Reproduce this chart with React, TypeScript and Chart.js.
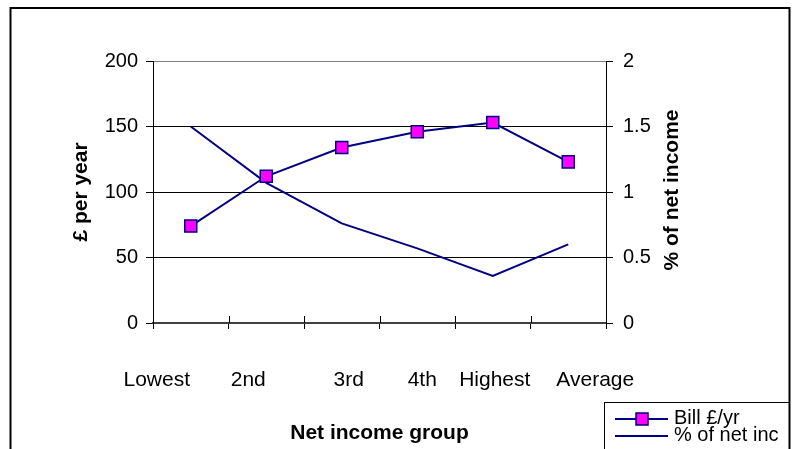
import React, { useEffect, useRef } from "react";
import { Chart, registerables } from "chart.js";

Chart.register(...registerables);

// Household bill by net income group, with the bill as a share of net income
const categories = ["Lowest", "2nd", "3rd", "4th", "Highest", "Average"];
const billPerYear = [74, 112, 134, 146, 153, 123];
const pctOfNetIncome = [1.5, 1.07, 0.76, 0.57, 0.36, 0.6];
const seriesNames = ["Bill £/yr", "% of net inc"];
const leftAxisRange = [0, 200];
const rightAxisRange = [0, 2];

// Layout: horizontal nudge of each category label from its category centre
const categoryLabelShift = [-34, -18, 7, 5, 2, 27];

const FONT = "Arial, 'Liberation Sans', sans-serif";
const NAVY = "#000080";
const MAGENTA = "#FF00FF";

const decorPlugin = {
  id: "decor",
  afterDraw(chart: any) {
    const { ctx, chartArea, scales } = chart;
    const x = scales.x;
    ctx.save();

    // upper half of the category tick marks (they cross the axis)
    ctx.strokeStyle = "#000";
    ctx.lineWidth = 1;
    for (let i = 1; i < categories.length; i++) {
      const px = Math.round(x.getPixelForValue(i - 0.5)) + 0.5;
      ctx.beginPath();
      ctx.moveTo(px, chartArea.bottom - 7);
      ctx.lineTo(px, chartArea.bottom);
      ctx.stroke();
    }

    // category labels
    ctx.fillStyle = "#000";
    ctx.font = `21px ${FONT}`;
    ctx.textAlign = "center";
    ctx.textBaseline = "alphabetic";
    categories.forEach((c, i) => {
      ctx.fillText(c, x.getPixelForValue(i) + categoryLabelShift[i], chartArea.bottom + 63);
    });

    // axis titles
    ctx.font = `bold 21px ${FONT}`;
    ctx.textBaseline = "middle";
    ctx.fillText("Net income group", (chartArea.left + chartArea.right) / 2, 433);

    const midY = (chartArea.top + chartArea.bottom) / 2;
    ctx.save();
    ctx.translate(81, midY);
    ctx.rotate(-Math.PI / 2);
    ctx.fillText("£ per year", 0, 0);
    ctx.restore();

    ctx.save();
    ctx.translate(672, midY - 2);
    ctx.rotate(-Math.PI / 2);
    ctx.fillText("% of net income", 0, 0);
    ctx.restore();

    // legend box, running into the frame on the right
    const lx = 604.5;
    const ly = 402.5;
    const lw = 789.5 - lx;
    ctx.fillStyle = "#fff";
    ctx.fillRect(lx, ly, lw, 80);
    ctx.strokeStyle = "#000";
    ctx.lineWidth = 1;
    ctx.strokeRect(lx, ly, lw, 80);

    chart.data.datasets.forEach((ds: any, i: number) => {
      const rowY = 419 + i * 17;
      ctx.strokeStyle = ds.borderColor;
      ctx.lineWidth = 2;
      ctx.beginPath();
      ctx.moveTo(615, rowY);
      ctx.lineTo(668, rowY);
      ctx.stroke();
      if (ds.pointRadius > 0) {
        ctx.fillStyle = ds.pointBackgroundColor;
        ctx.fillRect(636, rowY - 6, 12, 12);
        ctx.strokeStyle = ds.pointBorderColor;
        ctx.lineWidth = 1.5;
        ctx.strokeRect(636, rowY - 6, 12, 12);
      }
      ctx.fillStyle = "#000";
      ctx.font = `20px ${FONT}`;
      ctx.textAlign = "left";
      ctx.textBaseline = "alphabetic";
      ctx.fillText(ds.label, 674, rowY + 5);
    });

    // outer frame
    ctx.strokeStyle = "#000";
    ctx.lineWidth = 2;
    ctx.strokeRect(10.5, 8, 779, 480);

    ctx.restore();
  },
};

export default function App() {
  const canvasRef = useRef<HTMLCanvasElement | null>(null);

  useEffect(() => {
    if (!canvasRef.current) return;
    const tickFont = { family: FONT, size: 20 };
    const chart = new Chart(canvasRef.current, {
      type: "line",
      data: {
        labels: categories,
        datasets: [
          {
            label: seriesNames[0],
            data: billPerYear,
            yAxisID: "y",
            borderColor: NAVY,
            borderWidth: 2,
            pointStyle: "rect",
            pointRadius: 8.5,
            pointBackgroundColor: MAGENTA,
            pointBorderColor: NAVY,
            pointBorderWidth: 1.5,
            tension: 0,
          },
          {
            label: seriesNames[1],
            data: pctOfNetIncome,
            yAxisID: "y1",
            borderColor: NAVY,
            borderWidth: 2,
            pointRadius: 0,
            tension: 0,
          },
        ],
      },
      options: {
        responsive: false,
        animation: false,
        devicePixelRatio: 1,
        events: [],
        layout: { padding: { top: 61, left: 0, right: 0, bottom: 0 } },
        plugins: {
          legend: { display: false },
          tooltip: { enabled: false },
        },
        scales: {
          x: {
            type: "category",
            offset: true,
            grid: {
              offset: true,
              drawOnChartArea: false,
              tickLength: 6,
              color: "#000",
            },
            ticks: { display: false },
            border: { color: "#404040", width: 2 },
            afterFit: (s: any) => {
              s.height = 449 - 323;
            },
          },
          y: {
            type: "linear",
            position: "left",
            min: leftAxisRange[0],
            max: leftAxisRange[1],
            ticks: { stepSize: 50, padding: 8, color: "#000", font: tickFont },
            grid: {
              color: (c: any) =>
                c.tick && c.tick.value === leftAxisRange[1] ? "#808080" : "#000",
              tickColor: "#000",
              tickLength: 7,
              lineWidth: 1,
            },
            border: { color: "#000", width: 1 },
            afterFit: (s: any) => {
              s.width = 153;
            },
          },
          y1: {
            type: "linear",
            position: "right",
            min: rightAxisRange[0],
            max: rightAxisRange[1],
            ticks: {
              stepSize: 0.5,
              padding: 10,
              color: "#000",
              font: tickFont,
              callback: (v: any) => String(Number(v)),
            },
            grid: {
              drawOnChartArea: false,
              color: "#000",
              tickLength: 7,
            },
            border: { color: "#000", width: 1 },
            afterFit: (s: any) => {
              s.width = 792 - 606;
            },
          },
        },
      },
      plugins: [decorPlugin],
    });
    return () => chart.destroy();
  }, []);

  return (
    <div
      style={{
        position: "fixed",
        left: 0,
        top: 0,
        width: 792,
        height: 449,
        background: "#fff",
        overflow: "hidden",
      }}
    >
      <canvas ref={canvasRef} width={792} height={449} style={{ display: "block" }} />
    </div>
  );
}
